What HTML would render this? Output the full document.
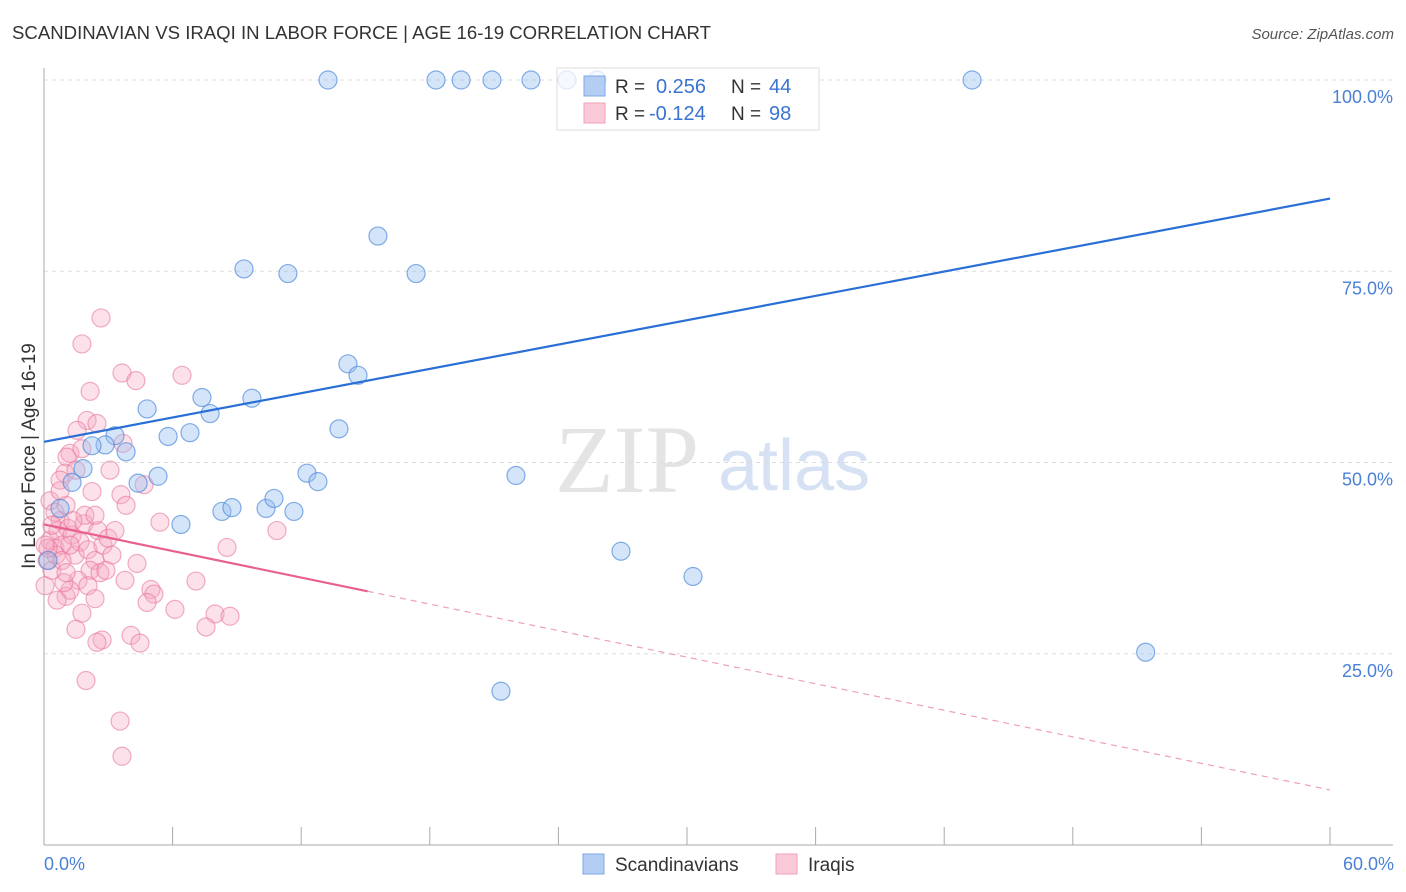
<!DOCTYPE html>
<html><head><meta charset="utf-8">
<style>
body{margin:0;background:#fff;font-family:"Liberation Sans",sans-serif;}
#wrap{position:relative;width:1406px;height:892px;overflow:hidden;}
</style></head>
<body>
<div id="wrap">
<svg id="svg" width="1406" height="892" xmlns="http://www.w3.org/2000/svg" font-family="Liberation Sans, sans-serif">
<text x="12" y="39" font-size="18" fill="#333" textLength="699" lengthAdjust="spacingAndGlyphs">SCANDINAVIAN VS IRAQI IN LABOR FORCE | AGE 16-19 CORRELATION CHART</text>
<text x="1394" y="39" font-size="15" fill="#555" font-style="italic" text-anchor="end">Source: ZipAtlas.com</text>
<text x="35" y="456" font-size="19" fill="#333" text-anchor="middle" transform="rotate(-90 35 456)">In Labor Force | Age 16-19</text>
<g><text x="555" y="492" font-size="96" fill="#e4e4e4" font-family="Liberation Serif, serif">ZIP</text><text x="718" y="490" font-size="72" fill="#d6e2f3">atlas</text></g>
<g id="grid"></g><g id="axes"></g><g id="pts"></g><g id="lines"></g>
<g>
<rect x="557" y="68" width="262" height="62" fill="rgba(255,255,255,0.75)" stroke="#ddd"/>
<rect x="584" y="76" width="21" height="20" fill="#b3cdf3" stroke="#7ea8e6"/>
<rect x="584" y="103" width="21" height="20" fill="#fbcad8" stroke="#f0a0b8"/>
<text x="615" y="93" font-size="19" fill="#333">R =</text><text x="656" y="93" font-size="20" fill="#3a74d0">0.256</text>
<text x="731" y="93" font-size="19" fill="#333">N =</text><text x="769" y="93" font-size="20" fill="#3a74d0">44</text>
<text x="615" y="120" font-size="19" fill="#333">R =</text><text x="649" y="120" font-size="20" fill="#3a74d0">-0.124</text>
<text x="731" y="120" font-size="19" fill="#333">N =</text><text x="769" y="120" font-size="20" fill="#3a74d0">98</text>
</g>
<g>
<rect x="583" y="854" width="21" height="20" fill="#b3cdf3" stroke="#7ea8e6"/>
<text x="615" y="871" font-size="19" fill="#333">Scandinavians</text>
<rect x="776" y="854" width="21" height="20" fill="#fbcad8" stroke="#f0a0b8"/>
<text x="808" y="871" font-size="19" fill="#333">Iraqis</text>
</g>
</svg>
</div>
<script>
const yTicks=[25,50,75,100];
const yTickLabels=["25.0%","50.0%","75.0%","100.0%"];
const xTickCount=10;
const xLabels=["0.0%","60.0%"];
const blueX=[13.25,18.29,19.46,20.9,22.72,24.4,25.8,43.3,15.58,9.33,11.38,17.36,14.18,14.65,7.37,9.7,4.81,7.75,3.31,5.79,6.81,13.76,2.85,3.83,2.24,1.82,5.32,4.39,12.27,12.78,22.02,1.31,6.39,8.3,8.77,10.36,10.73,11.66,0.75,26.92,30.28,51.4,21.32,0.19];
const blueY=[100,100,100,100,100,100,100,100,79.6,75.3,74.7,74.7,62.9,61.4,58.5,58.4,57.0,56.4,53.5,53.4,53.9,54.4,52.3,51.4,52.2,49.2,48.2,47.3,48.6,47.5,48.3,47.4,41.9,43.6,44.1,44.0,45.3,43.6,44.0,38.4,35.1,25.2,20.1,37.2];
const pinkX=[2.66,1.77,3.64,4.29,6.44,2.15,2.01,2.47,1.54,3.69,1.21,1.07,1.77,0.98,0.75,2.24,3.59,3.83,4.67,5.41,8.54,10.87,4.34,3.78,7.09,4.99,5.13,4.81,6.11,7.98,8.68,7.56,4.06,4.48,2.71,2.47,1.49,1.77,1.03,1.96,3.55,3.64,0.28,0.51,0.75,0.65,0.14,0.05,0.37,0.84,1.12,1.31,1.45,1.68,1.87,2.05,2.38,2.52,2.75,2.99,3.17,2.15,1.59,1.21,0.93,0.61,2.05,2.38,2.61,2.89,3.31,1.91,2.38,1.35,0.28,0.51,1.03,0.75,3.08,1.49,0.56,0.19,0.84,1.03,0.05,0.37,1.21];
const pinkY=[68.9,65.5,61.7,60.7,61.4,59.3,55.5,55.1,54.2,52.5,51.2,50.7,51.8,48.6,47.7,46.2,45.8,44.4,47.1,42.2,38.9,41.1,36.8,34.6,34.5,33.4,32.8,31.7,30.8,30.2,29.9,28.5,27.4,26.4,26.8,26.5,28.2,30.3,32.5,21.5,16.2,11.6,39.8,38.8,42.4,41.1,37.2,33.9,35.9,39.2,41.4,40.5,37.9,39.6,42.0,38.6,37.2,41.1,39.2,40.1,37.9,35.9,34.6,33.3,34.3,32.0,33.9,32.2,35.6,35.9,41.1,43.1,43.1,42.4,45.0,43.5,44.4,46.3,49.0,49.0,37.9,38.8,37.2,35.6,39.2,41.8,39.2];
const blueTrend=[52.7,84.5];
const pinkTrend=[41.9,7.2];
const pinkSolidEnd=15.1;

const NS="http://www.w3.org/2000/svg";
const X0=44,X1=1330,Y0=845,Y100=80;
const sx=v=>X0+(v/60)*(X1-X0);
const sy=v=>Y0-(v/100)*(Y0-Y100);
function mk(tag,attrs,parent){const e=document.createElementNS(NS,tag);for(const k in attrs)e.setAttribute(k,attrs[k]);document.getElementById(parent).appendChild(e);return e;}

yTicks.forEach((t,i)=>{
  const l=mk('line',{x1:X0,x2:1393,y1:sy(t),y2:sy(t),stroke:'#ddd','stroke-dasharray':'4,4'},'grid');
  
  
  const tx=mk('text',{x:1393,y:sy(t)+23,'font-size':18,fill:'#4a80d6','text-anchor':'end'},'grid');
  tx.textContent=yTickLabels[i];
  
  
});
const ax=mk('line',{x1:X0,x2:1393,y1:Y0,y2:Y0,stroke:'#aaa'},'axes');


const ay=mk('line',{x1:X0,x2:X0,y1:68,y2:Y0,stroke:'#aaa'},'axes');


for(let i=0;i<=xTickCount;i++){
  const x=sx(i*60/xTickCount);
  const tk=mk('line',{x1:x,x2:x,y1:Y0,y2:Y0-18,stroke:'#aaa'},'axes');
  
  
}
const xl0=mk('text',{x:X0,y:870,'font-size':18,fill:'#4a80d6'},'axes');xl0.textContent=xLabels[0];


const xl1=mk('text',{x:1394,y:870,'font-size':18,fill:'#4a80d6','text-anchor':'end'},'axes');xl1.textContent=xLabels[1];



pinkX.forEach((v,i)=>{
  const c=mk('circle',{cx:sx(v),cy:sy(pinkY[i]),r:9,fill:'rgba(246,170,195,0.35)',stroke:'rgba(232,120,155,0.6)','stroke-width':1.2},'pts');
  
  
});
blueX.forEach((v,i)=>{
  const c=mk('circle',{cx:sx(v),cy:sy(blueY[i]),r:9,fill:'rgba(150,190,240,0.4)',stroke:'rgba(80,140,220,0.7)','stroke-width':1.2},'pts');
  
  
});
const bl=mk('line',{x1:sx(0),y1:sy(blueTrend[0]),x2:sx(60),y2:sy(blueTrend[1]),stroke:'#2a6fd6','stroke-width':2.2},'lines');


const pAt=x=>pinkTrend[0]+(pinkTrend[1]-pinkTrend[0])*x/60;
const pl=mk('line',{x1:sx(0),y1:sy(pinkTrend[0]),x2:sx(pinkSolidEnd),y2:sy(pAt(pinkSolidEnd)),stroke:'#e8608e','stroke-width':2.2},'lines');


const pd=mk('line',{x1:sx(pinkSolidEnd),y1:sy(pAt(pinkSolidEnd)),x2:sx(60),y2:sy(pinkTrend[1]),stroke:'#eda0b8','stroke-width':1.2,'stroke-dasharray':'6,5'},'lines');


</script>
</body></html>
